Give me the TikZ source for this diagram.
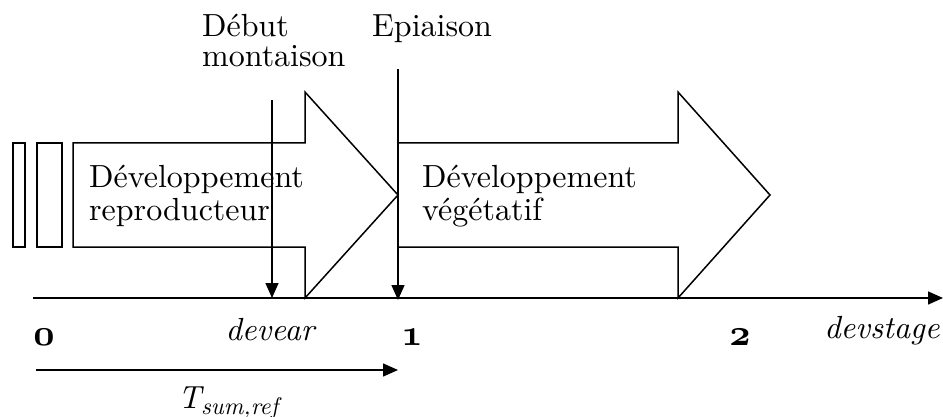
\documentclass[tikz,border=0pt]{standalone}
\usepackage{fontspec}
\setmainfont{lmroman10-regular.otf}[ItalicFont=lmroman10-italic.otf, BoldFont=lmroman10-bold.otf, BoldItalicFont=lmroman10-bolditalic.otf]
\usetikzlibrary{arrows.meta}
\newcommand{\osnum}[1]{\scalebox{3.7}{\usefont{OML}{cmm}{b}{it}#1}}
\begin{document}
\begin{tikzpicture}[x=1pt,y=-1pt,
  lbl/.style={anchor=base west, inner sep=0pt, font=\fontsize{32}{32}\selectfont},
  ital/.style={anchor=base, inner sep=0pt, font=\fontsize{32}{32}\selectfont\itshape},
  num/.style={anchor=base, inner sep=0pt},
  shp/.style={draw, line width=1.5pt, line join=miter},
  conn/.style={-{Triangle[length=15pt,width=13pt]}, line width=1.5pt}]
\useasboundingbox (0,0) rectangle (943,417);

% left bars
\draw[shp] (13,143) rectangle (25,247);
\draw[shp] (37,143) rectangle (62,247);

% big arrows
\draw[shp] (73,143) -- (305,143) -- (305,92) -- (398,195) -- (305,298) -- (305,247) -- (73,247) -- cycle;
\draw[shp] (398,143) -- (678,143) -- (678,92) -- (770,195) -- (678,298) -- (678,247) -- (398,247) -- cycle;

% coordinates
\coordinate (eTop) at (398,69);
\coordinate (eBot) at (398,300);
\coordinate (dTop) at (272,100);
\coordinate (dBot) at (272,298);
\coordinate (ax0) at (33,298);
\coordinate (ax1) at (943,298);
\coordinate (t0) at (36,370);
\coordinate (t1) at (398,370);

% connectors
\draw[conn] (ax0) -- (ax1);
\draw[conn] (eTop) -- (eBot);
\draw[conn] (dTop) -- (dBot);
\draw[conn] (t0) -- (t1);

% texts
\node[lbl] (r1) at (89,188) {Développement};
\node[lbl] (r2) at (89,220) {reproducteur};
\node[lbl] (v1) at (422,188) {Développement};
\node[lbl] (v2) at (422,220) {végétatif};
\node[lbl] (d1) at (202,37) {Début};
\node[lbl] (d2) at (202,67) {montaison};
\node[lbl] (ep) at (372,37) {Epiaison};

\node[num] (n0) at (44,345) {\osnum{0}};
\node[num] (n1) at (412,345) {\osnum{1}};
\node[num] (n2) at (740,345) {\osnum{2}};
\node[ital] (dv) at (270,340) {devear};
\node[ital] (ds) at (882,338) {devstage};
\node[anchor=base west, inner sep=0pt, font=\fontsize{32}{32}\selectfont\itshape] (ts) at (178,408)
  {T\raisebox{-6pt}{\fontsize{24}{24}\selectfont sum,ref}};
\end{tikzpicture}
\end{document}
